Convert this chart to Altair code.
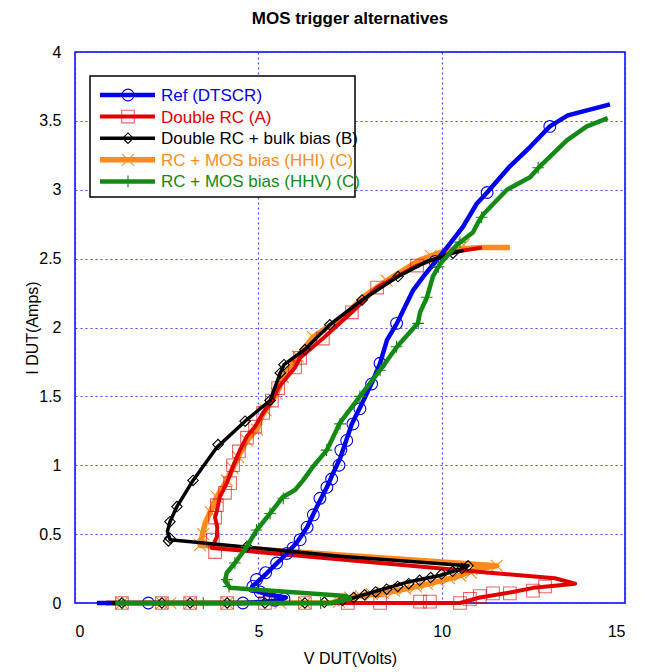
import altair as alt
import pandas as pd

names = ["Ref (DTSCR)", "Double RC (A)", "Double RC + bulk bias (B)",
         "RC + MOS bias (HHI) (C)", "RC + MOS bias (HHV) (C)"]
colors = ["#0000ee", "#e00000", "#000000", "#ff8c1a", "#138a13"]

x_ticks = [0, 5, 10, 15]
y_ticks = [0, 0.5, 1, 1.5, 2, 2.5, 3, 3.5, 4]

# ---- Ref (DTSCR)
blue_v = [0.6, 2.0, 3.5, 4.6, 5.2, 5.6, 5.75, 5.3, 4.9, 4.83, 5.05, 5.4, 5.78, 6.05, 6.33, 6.6, 6.87, 7.0, 7.23,
          7.55, 7.83, 8.1, 8.32, 8.51, 8.78, 9.0, 9.22, 9.5, 9.87, 10.2, 10.58, 10.96, 11.24, 11.86, 12.41, 12.95,
          13.44, 14.59]
blue_i = [0, 0, 0, 0, 0.01, 0.02, 0.04, 0.06, 0.09, 0.12, 0.17, 0.26, 0.36, 0.44, 0.55, 0.70, 0.84, 0.92, 1.05,
          1.30, 1.45, 1.60, 1.74, 1.91, 2.03, 2.15, 2.27, 2.37, 2.49, 2.60, 2.73, 2.90, 2.98, 3.17, 3.31, 3.46,
          3.54, 3.62]
blue_mv = [2.0, 4.58, 5.45, 5.7, 5.3, 5.05, 4.85, 4.95, 5.2, 5.5, 5.78, 5.95, 6.14, 6.33, 6.5, 6.68, 6.87, 7.0,
           7.2, 7.25, 7.41, 7.58, 7.77, 8.09, 8.32, 8.77, 9.82, 11.24, 12.95]
blue_mi = [0, 0, 0.02, 0.03, 0.05, 0.08, 0.12, 0.17, 0.22, 0.29, 0.36, 0.40, 0.46, 0.55, 0.64, 0.76, 0.84, 0.90,
           1.00, 1.11, 1.18, 1.30, 1.41, 1.59, 1.74, 2.03, 2.48, 2.98, 3.46]

# ---- Double RC (A)
red_v = [1.0, 4.0, 7.0, 10.5, 11.04, 11.94, 12.5, 12.87, 13.64, 13.09, 11.3, 3.73, 3.87, 3.88, 3.82, 3.87, 3.95,
         4.14, 4.31, 4.5, 4.69, 4.91, 5.13, 5.37, 5.54, 6.0, 6.14, 6.76, 7.55, 8.24, 9.33, 10.36, 11.1]
red_i = [0, 0, 0, 0, 0.04, 0.08, 0.11, 0.12, 0.14, 0.18, 0.22, 0.40, 0.48, 0.55, 0.62, 0.67, 0.77, 0.87, 0.99,
         1.11, 1.21, 1.28, 1.38, 1.47, 1.56, 1.71, 1.78, 1.92, 2.11, 2.29, 2.45, 2.55, 2.58]
red_mv = [1.28, 2.37, 3.14, 4.15, 5.18, 6.27, 7.44, 8.32, 9.41, 9.68, 10.5, 10.77, 11.04, 11.4, 11.86, 12.49,
          12.82, 3.82, 3.76, 3.82, 3.87, 4.09, 4.23, 4.31, 4.47, 4.69, 4.91, 5.13, 5.37, 5.54, 6.0, 6.14, 6.76,
          7.55, 8.24, 9.33]
red_mi = [0, 0, 0, 0, 0, 0, 0, 0, 0.01, 0.01, 0, 0.03, 0.05, 0.07, 0.07, 0.09, 0.12, 0.37, 0.46, 0.62, 0.71,
          0.80, 0.87, 1.0, 1.10, 1.20, 1.28, 1.38, 1.47, 1.56, 1.71, 1.78, 1.92, 2.11, 2.29, 2.45]

# ---- Double RC + bulk bias (B)
blk_v = [1.0, 4.0, 7.0, 7.5, 8.13, 9.05, 9.95, 10.45, 10.72, 7.23, 2.59, 2.52, 2.59, 2.78, 3.22, 3.87, 4.64, 5.32,
         5.6, 5.7, 6.27, 6.95, 7.83, 8.81, 9.6, 10.31, 10.6]
blk_i = [0, 0, 0, 0.03, 0.08, 0.15, 0.20, 0.24, 0.27, 0.34, 0.46, 0.52, 0.59, 0.70, 0.89, 1.13, 1.32, 1.47, 1.67,
         1.73, 1.84, 2.02, 2.20, 2.37, 2.48, 2.54, 2.56]
blk_mv = [1.28, 2.37, 3.14, 4.15, 5.18, 6.27, 6.8, 7.3, 7.6, 7.9, 8.2, 8.5, 8.8, 9.1, 9.4, 9.7, 10.0, 10.3, 10.55,
          10.72, 4.69, 2.55, 2.59, 2.59, 2.78, 3.22, 3.9, 4.64, 5.32, 5.6, 5.7, 6.27, 6.95, 7.83, 8.81, 10.31]
blk_mi = [0, 0, 0, 0, 0, 0, 0.005, 0.02, 0.04, 0.06, 0.08, 0.10, 0.12, 0.14, 0.165, 0.185, 0.21, 0.23, 0.25,
          0.27, 0.41, 0.45, 0.47, 0.59, 0.70, 0.89, 1.15, 1.32, 1.47, 1.67, 1.73, 1.84, 2.02, 2.20, 2.37, 2.54]

# ---- RC + MOS bias (HHI) (C)
org_v = [0.85, 4.0, 7.0, 7.5, 8.6, 9.5, 10.4, 11.0, 11.5, 3.41, 3.55, 3.87, 4.14, 4.45, 4.69, 4.96, 5.1, 5.5,
         5.67, 6.08, 6.49, 6.87, 7.23, 7.85, 8.5, 9.4, 10.14, 11.04, 11.86]
org_i = [0, 0, 0, 0.04, 0.08, 0.13, 0.19, 0.25, 0.27, 0.42, 0.58, 0.77, 0.89, 1.06, 1.18, 1.26, 1.36, 1.52,
         1.64, 1.79, 1.93, 2.0, 2.05, 2.22, 2.34, 2.49, 2.56, 2.58, 2.58]
org_mv = [1.28, 2.37, 2.6, 3.14, 4.15, 5.6, 6.27, 7.2, 7.5, 7.8, 8.1, 8.4, 8.7, 9.0, 9.3, 9.6, 9.9, 10.2, 10.5,
          10.8, 11.1, 11.5, 3.41, 3.5, 3.7, 3.87, 4.14, 4.3, 4.45, 4.69, 4.96, 5.2, 5.5, 5.67, 6.08, 6.49, 8.5,
          9.7, 10.6]
org_mi = [0, 0, 0, 0, 0, 0, 0, 0.01, 0.04, 0.05, 0.065, 0.075, 0.09, 0.105, 0.12, 0.14, 0.16, 0.18, 0.20, 0.22,
          0.245, 0.27, 0.42, 0.5, 0.66, 0.77, 0.89, 0.98, 1.06, 1.18, 1.26, 1.4, 1.52, 1.64, 1.79, 1.93, 2.34,
          2.52, 2.6]

# ---- RC + MOS bias (HHV) (C)
grn_v = [1.1, 4.0, 7.0, 7.5, 7.4, 4.23, 4.09, 4.14, 4.36, 4.69, 4.96, 5.32, 5.67, 6.0, 6.22, 6.49, 6.87, 7.23,
         7.77, 8.32, 8.78, 9.35, 9.41, 9.6, 9.76, 9.95, 10.42, 10.85, 10.99, 11.13, 11.78, 12.41, 12.68, 13.42,
         13.96, 14.53]
grn_i = [0, 0, 0, 0.03, 0.05, 0.11, 0.16, 0.22, 0.29, 0.41, 0.53, 0.65, 0.77, 0.82, 0.89, 0.99, 1.11, 1.31,
         1.50, 1.69, 1.86, 2.03, 2.11, 2.22, 2.37, 2.46, 2.60, 2.69, 2.76, 2.82, 3.0, 3.09, 3.17, 3.36, 3.46, 3.52]
grn_mv = [1.3, 3.5, 6.7, 7.2, 4.2, 4.14, 4.36, 4.68, 4.95, 5.32, 5.68, 6.86, 7.23, 7.77, 8.32, 8.77, 9.36, 9.59,
          9.91, 10.5, 11.09, 12.63]
grn_mi = [0, 0, 0, 0.02, 0.12, 0.17, 0.29, 0.41, 0.53, 0.65, 0.76, 1.11, 1.30, 1.50, 1.69, 1.86, 2.03, 2.22,
          2.44, 2.62, 2.80, 3.16]

X_PATH = "M-1,-1L1,1M-1,1L1,-1"
PLUS_PATH = "M-1,0L1,0M0,-1L0,1"

series = [
    (blue_v, blue_i, blue_mv, blue_mi, "circle", 4.5, 140, 1.0),
    (red_v, red_i, red_mv, red_mi, "square", 4.0, 160, 0.6),
    (blk_v, blk_i, blk_mv, blk_mi, "diamond", 3.5, 110, 1.0),
    (org_v, org_i, org_mv, org_mi, X_PATH, 5.5, 140, 1.0),
    (grn_v, grn_i, grn_mv, grn_mi, PLUS_PATH, 4.5, 140, 1.0),
]
draw_order = [3, 1, 0, 2, 4]

xscale = alt.Scale(domain=[0, 15], nice=False, zero=False)
yscale = alt.Scale(domain=[0, 4], nice=False, zero=False)
xaxis = alt.Axis(values=x_ticks, format="~g", title="V DUT(Volts)", grid=True, ticks=False, tickSize=0,
                 labelPadding=20, titlePadding=11, domain=False)
yaxis = alt.Axis(values=y_ticks, format="~g", title="I DUT(Amps)", grid=True, ticks=False, tickSize=0,
                 labelPadding=14, titlePadding=-2, domain=False)

layers = []
first = True
for k in draw_order:
    lv, li, mv, mi, shape, lw, msize, mop = series[k]
    ldf = pd.DataFrame({"V": lv, "I": li, "k": list(range(len(lv)))})
    mdf = pd.DataFrame({"V": mv, "I": mi})
    if first:
        xe = alt.X("V:Q", scale=xscale, axis=xaxis)
        ye = alt.Y("I:Q", scale=yscale, axis=yaxis)
        first = False
    else:
        xe = alt.X("V:Q", scale=xscale)
        ye = alt.Y("I:Q", scale=yscale)
    line = alt.Chart(ldf).mark_line(color=colors[k], strokeWidth=lw, strokeJoin="round").encode(
        x=xe, y=ye, order="k:Q")
    pts = alt.Chart(mdf).mark_point(shape=shape, color=colors[k], filled=False, size=msize,
                                    strokeWidth=1.1, opacity=mop).encode(
        x=alt.X("V:Q", scale=xscale), y=alt.Y("I:Q", scale=yscale))
    layers += [line, pts]

# ---- legend (drawn inside the plot area, top-left)
box = alt.Chart(pd.DataFrame({"a": [0]})).mark_rect(fill="white", stroke="black", strokeWidth=1.5).encode(
    x=alt.value(15), x2=alt.value(280), y=alt.value(24), y2=alt.value(145))
layers.append(box)
for k in range(len(names)):
    _, _, _, _, shape, lw, msize, mop = series[k]
    yc = 43 + 21.6 * k
    ld = pd.DataFrame({"label": [names[k]]})
    layers.append(alt.Chart(ld).mark_rule(color=colors[k], strokeWidth=lw).encode(
        x=alt.value(25), x2=alt.value(80), y=alt.value(yc)))
    layers.append(alt.Chart(ld).mark_point(shape=shape, color=colors[k], filled=False, size=msize,
                                           strokeWidth=1.1, opacity=mop).encode(
        x=alt.value(53), y=alt.value(yc)))
    layers.append(alt.Chart(ld).mark_text(align="left", baseline="middle", fontSize=17, color=colors[k],
                                          font="Liberation Sans").encode(
        x=alt.value(86), y=alt.value(yc + 1), text="label:N"))

chart = alt.layer(*layers).properties(
    width=550, height=551,
    background="white",
    title=alt.TitleParams("MOS trigger alternatives", fontSize=17, fontWeight="bold", font="Liberation Sans",
                          anchor="middle", offset=16, color="black"),
    autosize=alt.AutoSizeParams(type="none"),
    padding={"left": 75, "top": 52, "right": 22, "bottom": 69},
).configure_view(stroke="#0000ff", strokeWidth=1.5).configure_axis(
    gridColor="#2a2aff", gridDash=[2, 3], gridOpacity=0.85, gridWidth=1.2,
    labelFont="Liberation Sans", labelFontSize=16, labelColor="black",
    titleFont="Liberation Sans", titleFontSize=16, titleFontWeight="normal", titleColor="black",
)

chart.save("out.html", embed_options={"renderer": "svg", "actions": False})
